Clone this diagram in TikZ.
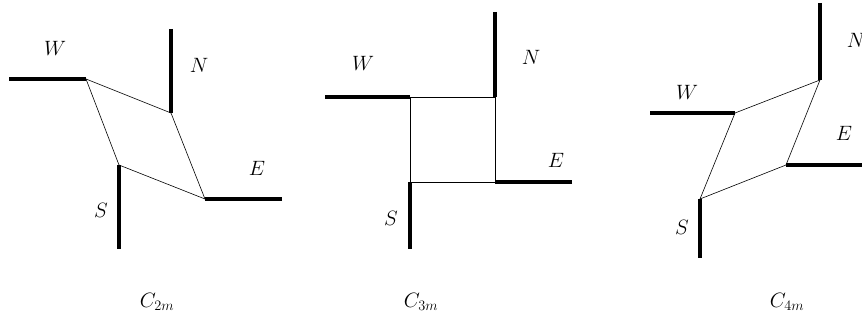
\documentclass[tikz,border=0pt]{standalone}
\usepackage{tikz}
\DeclareMathSizes{20}{20}{15}{11}
\begin{document}
\begin{tikzpicture}[x=1pt,y=-1pt,
  arm/.style={line width=3.2pt},
  rim/.style={line width=0.6pt},
  lab/.style={font=\fontsize{20}{24}\selectfont, inner sep=0pt}]
\useasboundingbox (0,0) rectangle (862,320);
% Panel C2m
\coordinate (a1W) at (86,79);   \coordinate (a1Wo) at (9,79);
\coordinate (a1N) at (171,113); \coordinate (a1No) at (171,29);
\coordinate (a1E) at (205,199); \coordinate (a1Eo) at (282,199);
\coordinate (a1S) at (119,165); \coordinate (a1So) at (119,249);
\draw[arm] (a1Wo) -- (a1W);
\draw[arm] (a1No) -- (a1N);
\draw[arm] (a1Eo) -- (a1E);
\draw[arm] (a1So) -- (a1S);
\draw[rim] (a1W) -- (a1N) -- (a1E) -- (a1S) -- cycle;
\node[lab] (l1W) at (55,48) {$W$};
\node[lab] (l1N) at (199,65) {$N$};
\node[lab] (l1E) at (257,168) {$E$};
\node[lab] (l1S) at (101,210) {$S$};
\node[lab] (l1C) at (157,302) {$C_{2m}$};
% Panel C3m
\coordinate (a2W) at (410,97);  \coordinate (a2Wo) at (325,97);
\coordinate (a2N) at (495,97);  \coordinate (a2No) at (495,12);
\coordinate (a2E) at (495,182); \coordinate (a2Eo) at (572,182);
\coordinate (a2S) at (410,182); \coordinate (a2So) at (410,249);
\draw[arm] (a2Wo) -- (a2W);
\draw[arm] (a2No) -- (a2N);
\draw[arm] (a2Eo) -- (a2E);
\draw[arm] (a2So) -- (a2S);
\draw[rim] (a2W) -- (a2N) -- (a2E) -- (a2S) -- cycle;
\node[lab] (l2W) at (363,63) {$W$};
\node[lab] (l2N) at (531,57) {$N$};
\node[lab] (l2E) at (556,160) {$E$};
\node[lab] (l2S) at (391,218) {$S$};
\node[lab] (l2C) at (421,302) {$C_{3m}$};
% Panel C4m
\coordinate (a3W) at (735,113); \coordinate (a3Wo) at (650,113);
\coordinate (a3N) at (820,80);  \coordinate (a3No) at (820,3);
\coordinate (a3E) at (786,165); \coordinate (a3Eo) at (866,165);
\coordinate (a3S) at (700,199); \coordinate (a3So) at (700,258);
\draw[arm] (a3Wo) -- (a3W);
\draw[arm] (a3No) -- (a3N);
\draw[arm] (a3Eo) -- (a3E);
\draw[arm] (a3So) -- (a3S);
\draw[rim] (a3W) -- (a3N) -- (a3E) -- (a3S) -- cycle;
\node[lab] (l3W) at (687,92) {$W$};
\node[lab] (l3N) at (856,40) {$N$};
\node[lab] (l3E) at (844,133) {$E$};
\node[lab] (l3S) at (682,227) {$S$};
\node[lab] (l3C) at (787,302) {$C_{4m}$};
\end{tikzpicture}
\end{document}
